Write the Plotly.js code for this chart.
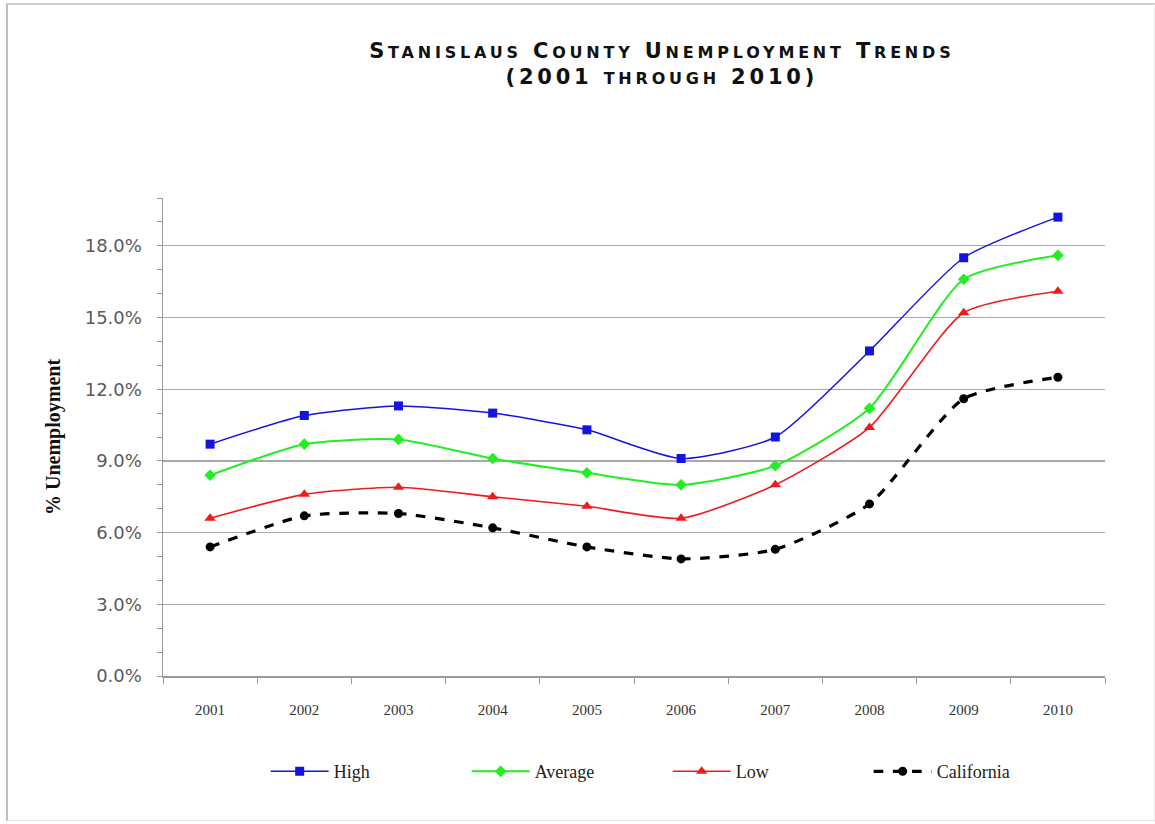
<!DOCTYPE html>
<html>
<head>
<meta charset="utf-8">
<script src="https://cdn.plot.ly/plotly-3.0.1.min.js"></script>
<style>
  html, body { margin: 0; padding: 0; background: #ffffff; }
  #wrap { position: relative; width: 1155px; height: 824px; }
  #chart { position: absolute; left: 0; top: 0; width: 1155px; height: 824px; }
  #frame { position: absolute; left: 6px; top: 3px; width: 1146px; height: 815px;
           border-left: 2px solid #bdbdbd; border-top: 2px solid #cfcfcf;
           border-bottom: 1px solid #e2e2e2; border-right: 1px solid #ececec;
           pointer-events: none; }
</style>
</head>
<body>
<div id="wrap">
  <div id="chart"></div>
  <div id="frame"></div>
</div>
<script>
const years = ['2001','2002','2003','2004','2005','2006','2007','2008','2009','2010'];
const highVals = [9.7, 10.9, 11.3, 11.0, 10.3, 9.1, 10.0, 13.6, 17.5, 19.2];
const averageVals = [8.4, 9.7, 9.9, 9.1, 8.5, 8.0, 8.8, 11.2, 16.6, 17.6];
const lowVals = [6.6, 7.6, 7.9, 7.5, 7.1, 6.6, 8.0, 10.4, 15.2, 16.1];
const californiaVals = [5.4, 6.7, 6.8, 6.2, 5.4, 4.9, 5.3, 7.2, 11.6, 12.5];
const yTickVals = [0, 3, 6, 9, 12, 15, 18];
const yTickText = ['0.0%', '3.0%', '6.0%', '9.0%', '12.0%', '15.0%', '18.0%'];

function series(name, vals, color, symbol, size, width, dash) {
  return {
    type: 'scatter', mode: 'lines+markers', name: name,
    x: years, y: vals,
    line: { color: color, width: width, shape: 'spline', smoothing: 0.6, dash: dash },
    marker: { color: color, symbol: symbol, size: size }
  };
}

const data = [
  series('High', highVals, '#1414e0', 'square', 9, 1.5, 'solid'),
  series('Average', averageVals, '#22ee22', 'diamond', 9, 2, 'solid'),
  series('Low', lowVals, '#ee1c1c', 'triangle-up', 10, 1.6, 'solid'),
  series('California', californiaVals, '#000000', 'circle', 9, 3.2, 'dash')
];

// small-caps title built from caps + reduced-size caps
const LS = 'letter-spacing:3.8px;';
function sc(t) { return '<span style="font-size:16px;' + LS + '">' + t + '</span>'; }
function bc(t) { return '<span style="font-size:21px;' + LS + '">' + t + '</span>'; }
const titleLine1 = bc('S') + sc('TANISLAUS') + bc(' C') + sc('OUNTY') + bc(' U') + sc('NEMPLOYMENT') + bc(' T') + sc('RENDS');
const titleLine2 = bc('(2001 ') + sc('THROUGH') + bc(' 2010)');

const layout = {
  width: 1155, height: 824,
  paper_bgcolor: '#ffffff', plot_bgcolor: '#ffffff',
  margin: { l: 163, r: 50, t: 198, b: 148 },
  title: {
    text: titleLine1 + '<br>' + titleLine2,
    x: 0.573, xanchor: 'center', yref: 'container', y: 0.93, yanchor: 'top',
    font: { family: 'DejaVu Sans', size: 20, color: '#111111', weight: 'bold' }
  },
  xaxis: {
    type: 'category', range: [-0.5, 9.5],
    showline: true, linecolor: '#9a9a9a', linewidth: 1.5,
    ticks: 'outside', ticklen: 6, tickcolor: '#9a9a9a', tickson: 'boundaries',
    showgrid: false, zeroline: false,
    ticklabelstandoff: 19,
    tickfont: { family: 'Liberation Serif', size: 15, color: '#333333' }
  },
  yaxis: {
    range: [0, 20],
    tickvals: yTickVals, ticktext: yTickText,
    showline: true, linecolor: '#9a9a9a', linewidth: 1.5,
    ticks: 'outside', ticklen: 5, tickcolor: '#9a9a9a',
    minor: { dtick: 1, ticks: 'outside', ticklen: 5, tickcolor: '#9a9a9a', showgrid: false },
    showgrid: true, gridcolor: '#a8a8a8', gridwidth: 1.2,
    zeroline: false,
    ticklabelstandoff: 11,
    tickfont: { family: 'DejaVu Sans', size: 18, color: '#5a5a5a' },
    title: { text: '% Unemployment', standoff: 18,
             font: { family: 'Liberation Serif', size: 20, color: '#111111', weight: 'bold' } }
  },
  legend: {
    orientation: 'h', x: 0.109, xanchor: 'left', y: -0.2, yanchor: 'middle',
    font: { family: 'Liberation Serif', size: 18, color: '#222222' },
    entrywidth: 128, itemwidth: 58, bgcolor: 'rgba(0,0,0,0)'
  },
  showlegend: true
};

Plotly.newPlot('chart', data, layout, { displayModeBar: false, staticPlot: true });
</script>
</body>
</html>
